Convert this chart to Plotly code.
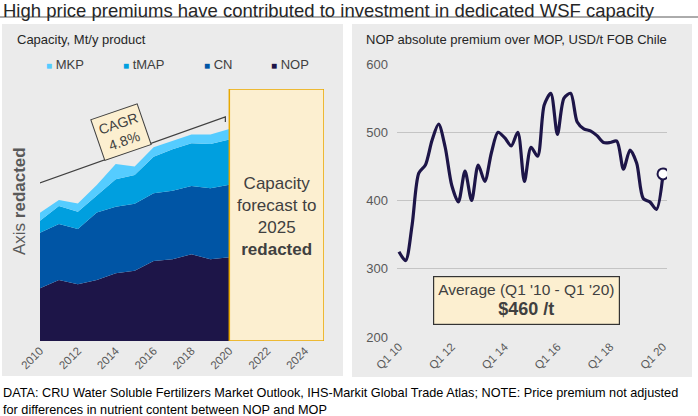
import plotly.graph_objects as go

# ---------------- data ----------------
years = [2010, 2011, 2012, 2013, 2014, 2015, 2016, 2017, 2018, 2019, 2020]
nop = [2.09, 2.42, 2.25, 2.42, 2.69, 2.79, 3.17, 3.24, 3.44, 3.24, 3.32]
cn = [2.21, 2.22, 2.19, 2.68, 2.64, 2.66, 2.69, 2.72, 2.71, 2.82, 2.88]
tmap = [0.47, 0.72, 0.69, 0.69, 1.09, 1.14, 1.45, 1.65, 1.70, 1.76, 1.80]
mkp = [0.32, 0.24, 0.33, 0.40, 0.60, 0.33, 0.38, 0.34, 0.34, 0.37, 0.41]
year_ticks = [2010, 2012, 2014, 2016, 2018, 2020, 2022, 2024]

quarters = [f"Q{q} {y:02d}" for y in range(10, 21) for q in range(1, 5)][:41]
premium = [325, 312, 365, 440, 452, 488, 512, 478, 422, 398, 443, 400, 452, 428,
           470, 500, 492, 480, 500, 428, 478, 465, 540, 557, 497, 550, 557, 515,
           505, 502, 495, 485, 485, 487, 446, 474, 455, 403, 398, 387, 439]
q_ticks = ["Q1 10", "Q1 12", "Q1 14", "Q1 16", "Q1 18", "Q1 20"]
avg_label = "$460 /t"
cagr_label = "4.8%"

# ---------------- style ----------------
FONT = "Liberation Sans, Arial, sans-serif"
W, H = 698, 416
C_MKP, C_TMAP, C_CN, C_NOP = "#55CCFF", "#009FDF", "#0055A5", "#1D1548"
PANEL = "#EBEBEB"
CREAM = "#FCEFD0"


def px(x):
    return x / W


def py(y):
    return 1 - y / H


fig = go.Figure()

for name, vals, col in [("NOP", nop, C_NOP), ("CN", cn, C_CN),
                        ("tMAP", tmap, C_TMAP), ("MKP", mkp, C_MKP)]:
    fig.add_trace(go.Scatter(x=years, y=vals, name=name, stackgroup="cap",
                             mode="lines", line=dict(width=0, color=col),
                             fillcolor=col, showlegend=False,
                             xaxis="x", yaxis="y", hoverinfo="skip"))

fig.add_trace(go.Scatter(x=quarters, y=premium, mode="lines",
                         line=dict(color=C_NOP, width=3.2, shape="spline", smoothing=0.8),
                         showlegend=False, xaxis="x2", yaxis="y2"))
fig.add_trace(go.Scatter(x=[quarters[-1]], y=[premium[-1]], mode="markers",
                         marker=dict(color="white", size=11, line=dict(color=C_NOP, width=2)),
                         showlegend=False, xaxis="x2", yaxis="y2"))

shapes = [
    dict(type="rect", xref="paper", yref="paper", x0=px(2), x1=px(343), y0=py(376), y1=py(24),
         fillcolor=PANEL, line=dict(width=0), layer="below"),
    dict(type="rect", xref="paper", yref="paper", x0=px(352), x1=px(692), y0=py(377), y1=py(24),
         fillcolor=PANEL, line=dict(width=0), layer="below"),
    dict(type="line", xref="paper", yref="paper", x0=0, x1=1, y0=py(17), y1=py(17),
         line=dict(color="#595959", width=1)),
    # forecast box
    dict(type="rect", xref="x", yref="y", x0=2020, x1=2025, y0=0, y1=10,
         fillcolor=CREAM, line=dict(color="#E8A800", width=1.5)),
    # CAGR bracket
    dict(type="path", xref="x", yref="y",
         path="M 2009.84 5.99 L 2009.84 6.23 L 2019.79 8.89 L 2019.79 8.69",
         line=dict(color="#404040", width=1.2)),
]

annotations = [
    dict(text="High price premiums have contributed to investment in dedicated WSF capacity",
         xref="paper", yref="paper", x=px(1), y=py(-2), xanchor="left", yanchor="top",
         showarrow=False, font=dict(family=FONT, size=18.5, color="#262626")),
    dict(text="Capacity, Mt/y product", xref="paper", yref="paper", x=px(15), y=py(39),
         xanchor="left", yanchor="middle", showarrow=False,
         font=dict(family=FONT, size=13, color="#262626")),
    dict(text="NOP absolute premium over MOP, USD/t FOB Chile", xref="paper", yref="paper",
         x=px(364), y=py(39), xanchor="left", yanchor="middle", showarrow=False,
         font=dict(family=FONT, size=13, color="#262626")),
    dict(text="Axis <b>redacted</b>", xref="paper", yref="paper", x=px(20), y=py(201),
         xanchor="center", yanchor="middle",
         textangle=-90, showarrow=False, font=dict(family=FONT, size=17, color="#595959")),
    dict(text="Capacity<br>forecast to<br>2025<br><b>redacted</b>", xref="x", yref="y",
         x=2022.5, y=4.95, showarrow=False, font=dict(family=FONT, size=17, color="#404040")),
    dict(text="CAGR<br>" + cagr_label, xref="x", yref="y", x=2014.3, y=8.29, textangle=-19,
         showarrow=False, bgcolor=CREAM, bordercolor="#404040", borderwidth=1, borderpad=4,
         font=dict(family=FONT, size=14, color="#404040")),
    dict(text="Average (Q1 '10 - Q1 '20)<br><span style='font-size:18px'><b>" + avg_label + "</b></span>",
         xref="paper", yref="y2", x=px(526), y=253, xanchor="center", yanchor="middle",
         showarrow=False, bgcolor=CREAM, bordercolor="#333333", borderwidth=1.2, borderpad=4,
         font=dict(family=FONT, size=15.5, color="#404040")),
    dict(text="DATA: CRU Water Soluble Fertilizers Market Outlook, IHS-Markit Global Trade Atlas; "
              "NOTE: Price premium not adjusted<br>for differences in nutrient content between NOP and MOP",
         xref="paper", yref="paper", x=px(1), y=py(384), xanchor="left", yanchor="top",
         align="left", showarrow=False, font=dict(family=FONT, size=12.7, color="#000000")),
]

legend_items = [("MKP", C_MKP, 44), ("tMAP", C_TMAP, 121), ("CN", C_CN, 202), ("NOP", C_NOP, 269)]
for name, col, xpos in legend_items:
    annotations.append(dict(
        text=f"<span style='color:{col};font-size:10px'>■</span> {name}",
        xref="paper", yref="paper", x=px(xpos), y=py(64), xanchor="left", yanchor="middle",
        showarrow=False, font=dict(family=FONT, size=13, color="#404040")))

fig.update_layout(
    width=W, height=H, margin=dict(l=0, r=0, t=0, b=0, autoexpand=False),
    paper_bgcolor="white", plot_bgcolor="rgba(0,0,0,0)",
    font=dict(family=FONT, color="#595959"),
    showlegend=False, shapes=shapes, annotations=annotations,
    xaxis=dict(domain=[px(40), px(324)], range=[2010, 2025], tickvals=year_ticks,
               tickangle=-45, showgrid=False, zeroline=False, showline=False, automargin=False,
               tickfont=dict(size=11.5, color="#595959"), anchor="y"),
    yaxis=dict(domain=[py(341), py(89)], range=[0, 10], showticklabels=False, automargin=False,
               showgrid=False, zeroline=False, anchor="x"),
    xaxis2=dict(domain=[px(397), px(667)], range=[-0.3, 40.6], type="category",
                tickvals=q_ticks, ticktext=q_ticks, tickangle=-45, showgrid=False, automargin=False,
                zeroline=False, showline=False, tickfont=dict(size=11.5, color="#595959"),
                anchor="y2"),
    yaxis2=dict(domain=[py(337), py(64)], range=[200, 600], tickvals=[200, 300, 400, 500, 600],
                showgrid=True, gridcolor="#C4C4C4", gridwidth=1, zeroline=False, automargin=False,
                tickfont=dict(size=13, color="#595959"), anchor="x2", ticklabelstandoff=8),
)

fig.write_html("out.html", config={"displayModeBar": False},
               post_script="document.body.style.margin='0';document.body.style.overflow='hidden';")
